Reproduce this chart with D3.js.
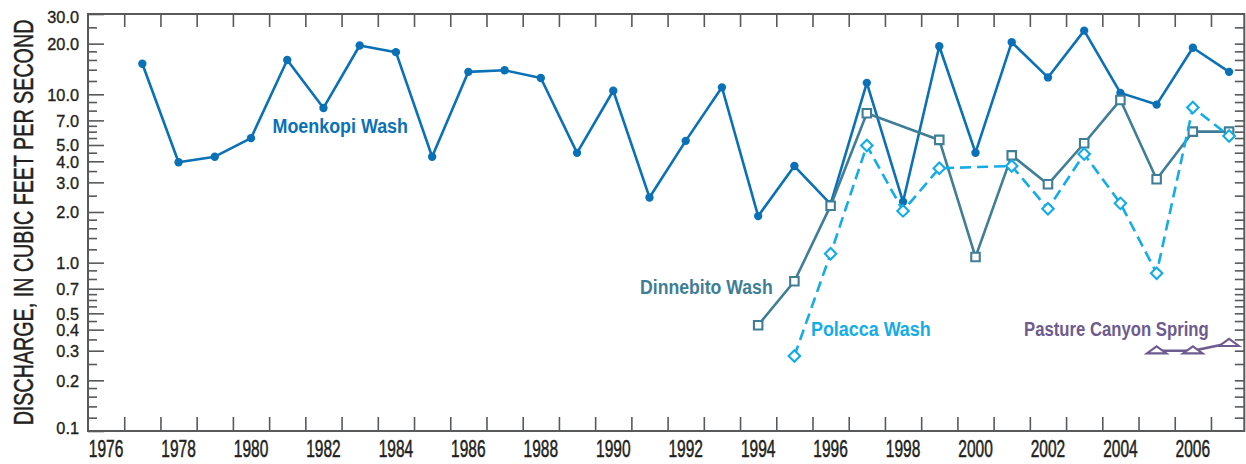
<!DOCTYPE html>
<html>
<head>
<meta charset="utf-8">
<script src="https://cdn.jsdelivr.net/npm/d3@7/dist/d3.min.js"></script>
<style>
  html, body { margin: 0; padding: 0; background: #fff; }
  svg { display: block; }
  text { font-family: 'Liberation Sans Narrow', 'Liberation Sans', Arial, sans-serif; fill: #231f20; }
  .axislabel { stroke: #231f20; stroke-width: 0.35px; }
</style>
</head>
<body>
<svg id="chart" width="1246" height="464"></svg>
<script>
// Annual discharge, cubic feet per second
const moenkopiYears = [1977,1978,1979,1980,1981,1982,1983,1984,1985,1986,1987,1988,1989,1990,1991,1992,1993,1994,1995,1996,1997,1998,1999,2000,2001,2002,2003,2004,2005,2006,2007];
const moenkopiQ     = [15.2,3.95,4.26,5.49,16.0,8.3,19.5,17.8,4.26,13.6,13.9,12.5,4.49,10.5,2.44,5.29,11.0,1.89,3.75,2.23,11.7,2.30,19.3,4.50,20.4,12.6,23.9,10.2,8.69,18.9,13.6];

const dinnebitoYears = [1994,1995,1996,1997,1999,2000,2001,2002,2003,2004,2005,2006,2007];
const dinnebitoQ     = [0.425,0.775,2.18,7.72,5.36,1.08,4.34,2.92,5.12,9.26,3.13,6.00,6.00];

const polaccaYears = [1995,1996,1997,1998,1999,2001,2002,2003,2004,2005,2006,2007];
const polaccaQ     = [0.279,1.13,4.96,2.03,3.64,3.75,2.09,4.42,2.25,0.865,8.34,5.66];

const pastureYears = [2005,2006,2007];
const pastureQ     = [0.300,0.300,0.332];

// Axis ticks
const yMajorTicks  = [0.1,0.2,0.3,0.4,0.5,0.7,1,2,3,4,5,7,10,20,30];
const yMajorLabels = ["0.1","0.2","0.3","0.4","0.5","0.7","1.0","2.0","3.0","4.0","5.0","7.0","10.0","20.0","30.0"];
const yMinorTicks  = [0.12,0.14,0.16,0.18,0.25,0.35,0.45,0.55,0.6,0.65,0.8,0.9,1.2,1.4,1.6,1.8,2.5,3.5,4.5,5.5,6,6.5,8,9,12,14,16,18,25];
const xTickYears   = [1976.5,1977.5,1978.5,1979.5,1980.5,1981.5,1982.5,1983.5,1984.5,1985.5,1986.5,1987.5,1988.5,1989.5,1990.5,1991.5,1992.5,1993.5,1994.5,1995.5,1996.5,1997.5,1998.5,1999.5,2000.5,2001.5,2002.5,2003.5,2004.5,2005.5,2006.5];
const xLabelYears  = [1976,1978,1980,1982,1984,1986,1988,1990,1992,1994,1996,1998,2000,2002,2004,2006];

const svg = d3.select("#chart");
const plotL = 88, plotR = 1244.3, plotT = 14, plotB = 431;

const x = d3.scaleLinear().domain([1975.5, 2007.42]).range([plotL, plotR]);
const y = d3.scaleLog().domain([0.1, 30]).range([plotB, plotT]);

const axisColor = "#58595b";

// --- axes -------------------------------------------------------------
const gAxes = svg.append("g");

// left: long ticks with labels, short minor ticks
const leftMajor = gAxes.append("g").attr("transform", `translate(${plotL},0)`)
  .call(d3.axisLeft(y).tickValues(yMajorTicks).tickSize(-16).tickPadding(9)
    .tickFormat((d, i) => yMajorLabels[i]));
gAxes.append("g").attr("transform", `translate(${plotL},0)`)
  .call(d3.axisLeft(y).tickValues(yMinorTicks).tickSize(-9).tickFormat(""));

// keep the end labels inside the frame height
leftMajor.attr("font-family", null).attr("font-size", null);
leftMajor.selectAll(".tick text")
  .attr("class", "axislabel")
  .attr("dy", null)
  .attr("dominant-baseline", "central")
  .attr("y", d => Math.max(plotT + 2, Math.min(plotB - 4, y(d))) - y(d))
  .style("font-size", "16.3px");

// right: short ticks pointing inward
gAxes.append("g").attr("transform", `translate(${plotR},0)`)
  .call(d3.axisRight(y).tickValues(yMajorTicks.concat(yMinorTicks).filter(v => v > 0.1 && v < 30))
    .tickSize(-9.5).tickFormat(""));

// top and bottom: inward ticks between years
gAxes.append("g").attr("transform", `translate(0,${plotT})`)
  .call(d3.axisTop(x).tickValues(xTickYears).tickSize(-13).tickFormat(""));
gAxes.append("g").attr("transform", `translate(0,${plotB})`)
  .call(d3.axisBottom(x).tickValues(xTickYears).tickSize(-14).tickFormat(""));

gAxes.selectAll(".domain").remove();
gAxes.selectAll(".tick line").attr("stroke", axisColor).attr("stroke-width", 1.6);

// frame
gAxes.append("rect")
  .attr("x", plotL).attr("y", plotT)
  .attr("width", plotR - plotL).attr("height", plotB - plotT)
  .attr("fill", "none").attr("stroke", axisColor).attr("stroke-width", 2);

// Condensed text: size the font so its natural width matches the target
// width, then stretch the glyphs vertically to reach the wanted cap height.
function condensedText(sel, str, width, capSize) {
  sel.text(str).style("font-size", capSize + "px");
  const natural = sel.node().getComputedTextLength();
  const fs = capSize * width / natural;
  sel.style("font-size", fs + "px");
  return capSize / fs;
}

// year labels
gAxes.append("g").selectAll("g").data(xLabelYears).join("g")
  .attr("transform", d => `translate(${x(d)},456.5)`)
  .each(function(d) {
    const t = d3.select(this).append("text")
      .attr("class", "axislabel")
      .attr("text-anchor", "middle");
    const sy = condensedText(t, String(d), 34.5, 23);
    t.attr("transform", `scale(1,${sy})`);
  });

// y title
const titleG = svg.append("g").attr("transform", "translate(33,222.5) rotate(-90)");
const title = titleG.append("text")
  .attr("class", "axislabel")
  .attr("text-anchor", "middle");
const titleSy = condensedText(title, "DISCHARGE, IN CUBIC FEET PER SECOND", 406, 27);
title.attr("transform", `scale(1,${titleSy})`);

// --- series -----------------------------------------------------------
const flatTriangle = {
  draw(ctx, size) {
    const w = Math.sqrt(size) * 0.62, h = w * 0.72;
    ctx.moveTo(0, -h * 0.62);
    ctx.lineTo(w, h * 0.38);
    ctx.lineTo(-w, h * 0.38);
    ctx.closePath();
  }
};

const series = [
  { years: moenkopiYears,  q: moenkopiQ,  color: "#0a71b7", dash: null,    symbol: d3.symbolCircle, size: 55, filled: true,  rotate: 0 },
  { years: dinnebitoYears, q: dinnebitoQ, color: "#3f7e96", dash: null,    symbol: d3.symbolSquare, size: 72, filled: false, rotate: 0 },
  { years: polaccaYears,   q: polaccaQ,   color: "#13ace6", dash: "11,6",  symbol: d3.symbolSquare, size: 66, filled: false, rotate: 45 },
  { years: pastureYears,   q: pastureQ,   color: "#6d5b8f", dash: null,    symbol: flatTriangle,    size: 250, filled: false, rotate: 0 }
];

const line = d3.line().x(d => x(d[0])).y(d => y(d[1]));

series.forEach(s => {
  const pts = s.years.map((yr, i) => [yr, s.q[i]]);
  const g = svg.append("g");
  g.append("path")
    .attr("d", line(pts))
    .attr("fill", "none")
    .attr("stroke", s.color)
    .attr("stroke-width", 2.6)
    .attr("stroke-linejoin", "round")
    .attr("stroke-dasharray", s.dash);
  g.selectAll("path.m").data(pts).join("path")
    .attr("class", "m")
    .attr("d", d3.symbol().type(s.symbol).size(s.size))
    .attr("transform", d => `translate(${x(d[0])},${y(d[1])}) rotate(${s.rotate})`)
    .attr("fill", s.filled ? s.color : "#fff")
    .attr("stroke", s.color)
    .attr("stroke-width", s.filled ? 0 : 2.1);
});

// series names
const names = [
  { text: "Moenkopi Wash",         x: 272.5, y: 132.5, w: 135.5, color: "#0a71b7" },
  { text: "Dinnebito Wash",        x: 640,   y: 293.5, w: 132.7, color: "#3f7e96" },
  { text: "Polacca Wash",          x: 811,   y: 336,   w: 119.7, color: "#13ace6" },
  { text: "Pasture Canyon Spring", x: 1024,  y: 336,   w: 184.7, color: "#6d5b8f" }
];
svg.append("g").selectAll("text").data(names).join("text")
  .attr("x", d => d.x).attr("y", d => d.y)
  .attr("textLength", d => d.w)
  .attr("lengthAdjust", "spacingAndGlyphs")
  .style("font-size", "19.5px")
  .style("font-weight", "bold")
  .style("fill", d => d.color)
  .text(d => d.text);
</script>
</body>
</html>
